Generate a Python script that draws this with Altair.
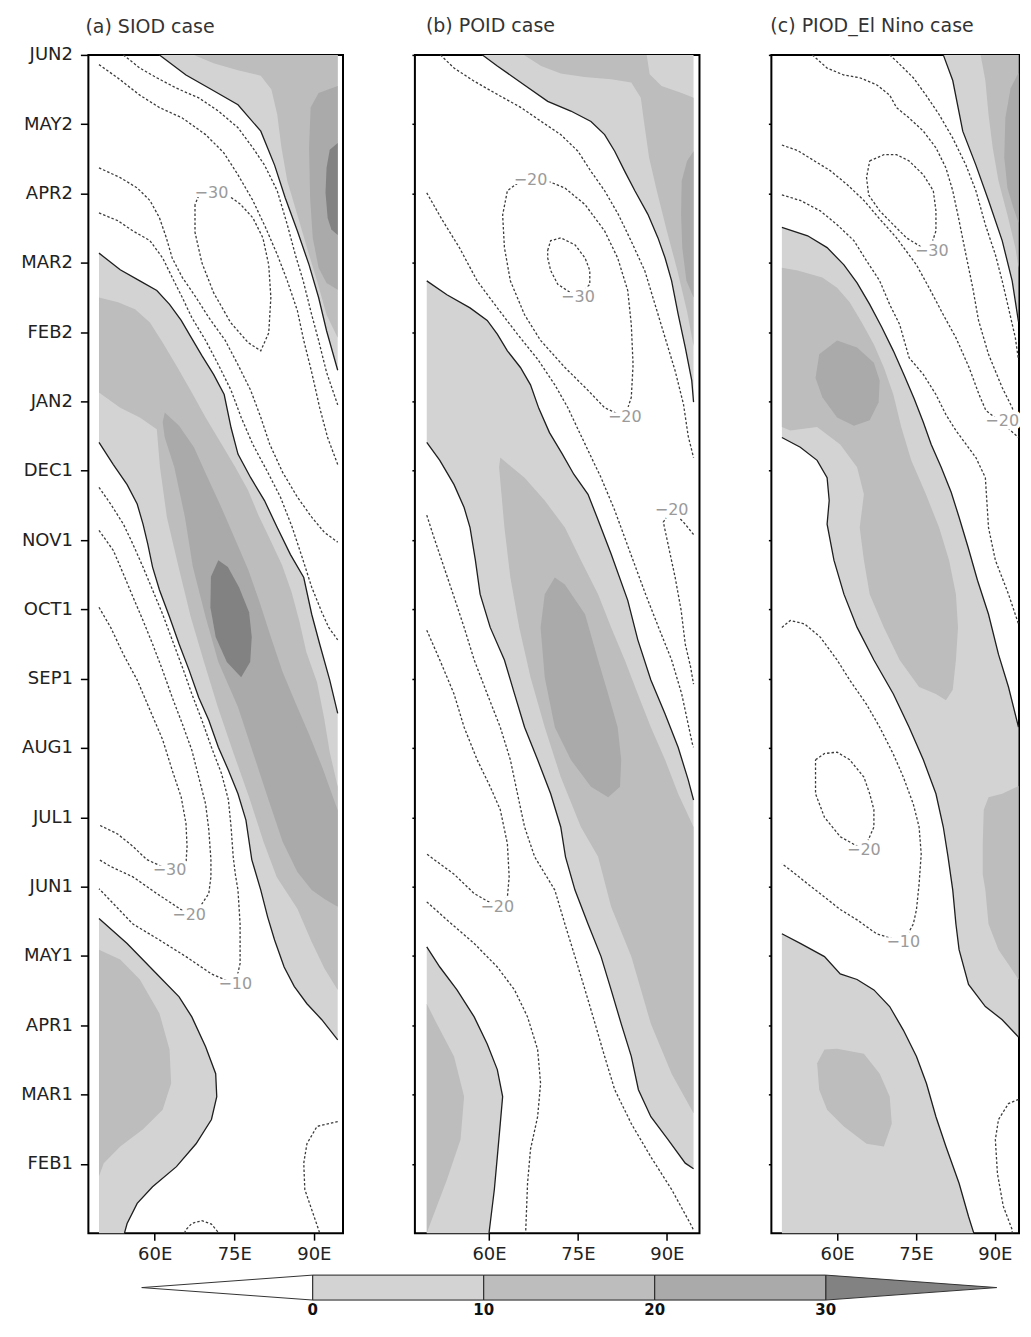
import altair as alt
import pandas as pd

# ---------------- axes / frame ----------------
LON_DOMAIN = [47.5, 95.5]
LON_DOMAIN_C = [47.5, 94.6]
T_DOMAIN = [0, 17]
LON_TICKS = [60, 75, 90]
T_TICKS = list(range(1, 18))
T_TICK_LABELS = ["FEB1", "MAR1", "APR1", "MAY1", "JUN1", "JUL1", "AUG1", "SEP1",
                 "OCT1", "NOV1", "DEC1", "JAN2", "FEB2", "MAR2", "APR2", "MAY2", "JUN2"]
PANEL_TITLES = ["(a)  SIOD  case", "(b)  POID  case", "(c)  PIOD_El  Nino  case"]
LON_W, LON_E, T_BOT, T_TOP = 49.5, 94.5, 0.0, 17.0
LEVELS = [0, 10, 20, 30]
CBAR_BOUNDS = [0, 10, 20, 30]
CBAR_LIMITS = [-10, 40]

# ---------------- panel (a) SIOD : (lon E, months since JAN1) ----------------
A_Z0_TOP = [(60.9, 17.0), (65.9, 16.71), (70.7, 16.50), (75.7, 16.28), (80.0, 15.90), (82.6, 15.41),
            (84.6, 14.94), (86.9, 14.46), (89.1, 13.97), (90.9, 13.50), (92.4, 13.02), (94.5, 12.45)]
A_Z10_TOP = [(67.4, 17.0), (71.1, 16.88), (75.7, 16.78), (80.0, 16.70), (82.0, 16.50), (83.1, 16.14),
             (83.9, 15.66), (85.0, 15.18), (86.9, 14.69), (88.7, 14.22), (90.6, 13.74), (92.4, 13.25),
             (94.5, 12.92), (94.5, 17.0)]
A_Z20_TOP = [(94.5, 16.55), (90.9, 16.45), (89.4, 16.24), (89.1, 15.66), (89.3, 14.94), (89.8, 14.36),
             (90.9, 13.93), (92.4, 13.71), (94.5, 13.61)]
A_Z30_TOP = [(94.5, 15.73), (93.0, 15.63), (92.4, 15.37), (92.2, 15.01), (92.6, 14.65), (93.3, 14.48),
             (94.5, 14.40)]
A_Z0_BAND_UP = [(49.5, 14.14), (53.5, 13.90), (57.2, 13.74), (60.4, 13.60), (62.8, 13.40), (65.0, 13.17),
                (66.9, 12.92), (68.9, 12.66), (71.1, 12.39), (73.1, 12.10), (74.4, 11.62), (75.7, 11.24),
                (78.1, 10.90), (80.7, 10.57), (83.1, 10.18), (85.6, 9.79), (88.1, 9.46), (89.6, 8.93),
                (91.1, 8.50), (93.0, 7.98), (94.5, 7.50)]
A_Z0_BAND_LO = [(49.5, 11.41), (52.2, 11.09), (54.8, 10.80), (56.7, 10.52), (57.8, 10.23), (58.7, 9.94),
                (59.6, 9.61), (60.9, 9.28), (62.8, 8.89), (64.6, 8.50), (66.5, 8.12), (68.3, 7.73),
                (70.2, 7.40), (72.0, 7.01), (73.9, 6.68), (75.7, 6.34), (77.2, 5.96), (78.3, 5.39),
                (80.0, 4.95), (81.3, 4.56), (82.6, 4.23), (84.4, 3.84), (86.3, 3.56), (88.7, 3.31),
                (91.5, 3.08), (94.5, 2.79)]
A_Z10_BAND = [(49.5, 13.50), (53.1, 13.43), (56.3, 13.33), (59.1, 13.14), (61.5, 12.85), (64.3, 12.49),
              (67.0, 12.13), (69.6, 11.77), (72.4, 11.41), (75.2, 11.05), (77.6, 10.72), (79.5, 10.37),
              (81.8, 10.00), (84.0, 9.64), (85.8, 9.25), (87.3, 8.82), (88.6, 8.38), (90.6, 7.95),
              (91.9, 7.45), (93.0, 6.94), (94.5, 6.44), (94.5, 3.51), (92.0, 3.82), (89.6, 4.20),
              (86.9, 4.68), (83.0, 5.14), (80.5, 5.65), (77.8, 6.29), (74.8, 6.94), (71.9, 7.59),
              (69.3, 8.24), (66.8, 8.89), (64.5, 9.61), (62.3, 10.33), (61.0, 11.05), (60.4, 11.60),
              (57.2, 11.77), (53.5, 11.91), (49.5, 12.13)]
A_Z20_BAND = [(61.9, 11.84), (64.6, 11.65), (67.4, 11.34), (69.8, 10.93), (72.4, 10.50), (75.0, 10.04),
              (77.6, 9.58), (79.8, 9.10), (81.9, 8.60), (84.1, 8.10), (86.5, 7.66), (89.1, 7.20),
              (91.7, 6.70), (94.5, 6.10), (94.5, 4.71), (92.0, 4.82), (89.6, 4.95), (86.9, 5.21),
              (84.1, 5.65), (81.3, 6.29), (78.5, 6.94), (75.7, 7.59), (72.0, 8.24), (69.6, 8.89),
              (67.2, 9.61), (65.7, 10.33), (63.7, 11.05), (61.9, 11.48), (61.5, 11.70)]
A_Z30_BAND = [(72.0, 9.71), (70.6, 9.47), (70.5, 9.03), (71.5, 8.60), (73.6, 8.24), (76.3, 8.02),
              (78.0, 8.24), (78.3, 8.60), (77.8, 8.96), (75.9, 9.32), (73.8, 9.61)]
A_Z0_LL = [(49.5, 4.54), (54.8, 4.18), (60.4, 3.74), (64.6, 3.41), (67.0, 3.12), (69.6, 2.69), (71.5, 2.30),
           (71.7, 1.97), (70.7, 1.64), (67.8, 1.29), (64.1, 0.96), (59.6, 0.67), (56.7, 0.43), (54.8, 0.14),
           (54.3, 0.0)]
A_Z10_LL = [(49.5, 4.09), (53.5, 3.95), (57.2, 3.66), (60.9, 3.17), (62.8, 2.65), (63.1, 2.16), (61.5, 1.78),
            (57.8, 1.50), (53.5, 1.25), (50.4, 1.01), (49.5, 0.82)]

A_D10_TOP = [(54.1, 17.0), (57.2, 16.81), (60.4, 16.67), (64.1, 16.52), (68.3, 16.38), (72.0, 16.19),
             (75.7, 15.95), (78.5, 15.66), (80.7, 15.41), (83.1, 15.04), (85.0, 14.55), (86.5, 14.12),
             (88.0, 13.74), (89.6, 13.25), (90.9, 12.88), (92.4, 12.42), (94.5, 11.95)]
A_D20_TOP = [(49.5, 16.86), (53.0, 16.67), (57.2, 16.42), (60.9, 16.24), (65.2, 16.09), (69.6, 15.85),
             (73.0, 15.59), (75.7, 15.27), (78.5, 14.90), (80.9, 14.51), (83.1, 14.12), (85.0, 13.74),
             (86.9, 13.31), (88.1, 12.88), (89.6, 12.42), (91.1, 11.91), (92.6, 11.48), (94.5, 11.09)]
A_D30_LOOP = [(67.6, 14.84), (67.6, 14.44), (68.9, 14.00), (71.1, 13.57), (74.3, 13.14), (77.6, 12.85),
              (80.0, 12.73), (81.5, 12.99), (81.9, 13.50), (81.5, 13.97), (80.4, 14.36), (78.5, 14.65),
              (76.1, 14.85), (73.9, 14.97), (70.7, 15.01), (68.3, 14.97), (67.6, 14.84)]
A_D20_MID = [(49.5, 15.37), (53.5, 15.23), (56.7, 15.08), (59.1, 14.90), (60.9, 14.65), (62.2, 14.36),
             (63.3, 14.07), (65.2, 13.79), (67.8, 13.50), (70.2, 13.21), (73.3, 12.88), (75.7, 12.53),
             (78.1, 12.16), (80.0, 11.77), (81.7, 11.38), (84.1, 10.98), (86.9, 10.62), (89.6, 10.33),
             (92.0, 10.11), (94.5, 9.97)]
A_D10_MID = [(49.5, 14.72), (53.0, 14.61), (55.9, 14.46), (59.1, 14.32), (61.5, 14.07), (63.3, 13.79),
             (65.2, 13.50), (67.0, 13.21), (69.6, 12.88), (72.0, 12.53), (74.4, 12.16), (76.3, 11.77),
             (78.5, 11.38), (81.3, 10.98), (83.7, 10.62), (85.9, 10.19), (87.8, 9.75), (89.6, 9.32),
             (91.5, 8.96), (92.8, 8.74), (94.5, 8.56)]
A_D10_LOW = [(49.5, 10.76), (51.7, 10.52), (54.1, 10.23), (55.9, 9.94), (57.8, 9.61), (59.6, 9.28),
             (61.5, 8.93), (63.3, 8.56), (65.2, 8.17), (67.0, 7.78), (68.9, 7.40), (70.7, 7.01),
             (72.6, 6.63), (73.9, 6.25), (74.4, 5.86), (74.8, 5.43), (75.2, 5.18), (75.7, 4.95),
             (76.1, 4.46), (76.1, 3.89), (75.2, 3.59), (70.7, 3.74), (65.9, 3.99), (60.9, 4.23),
             (55.9, 4.46), (49.5, 4.97)]
A_D20_LOW = [(49.5, 10.14), (52.2, 9.85), (54.1, 9.51), (55.9, 9.18), (57.8, 8.84), (59.6, 8.50),
             (61.5, 8.12), (63.3, 7.73), (65.2, 7.35), (67.0, 6.97), (68.3, 6.58), (69.6, 6.19),
             (70.2, 5.82), (70.6, 5.39), (70.6, 5.14), (70.2, 4.90), (68.9, 4.75), (66.5, 4.59),
             (60.4, 4.90), (55.9, 5.14), (51.7, 5.29), (49.5, 5.39)]
A_D30_LOW = [(49.5, 9.03), (51.7, 8.74), (54.1, 8.35), (56.7, 7.98), (59.1, 7.55), (61.5, 7.12),
             (63.3, 6.68), (65.0, 6.29), (65.9, 5.91), (66.1, 5.58), (65.9, 5.33), (62.8, 5.24),
             (58.5, 5.39), (55.9, 5.58), (53.0, 5.76), (49.5, 5.89)]
A_D10_BR = [(94.5, 1.61), (90.6, 1.54), (88.7, 1.29), (88.1, 1.01), (88.3, 0.63), (89.6, 0.34),
            (90.9, 0.05), (91.1, 0.0)]
A_D10_BB = [(65.6, 0.0), (65.9, 0.05), (67.0, 0.14), (68.9, 0.18), (70.7, 0.13), (72.0, 0.01)]
A_LABELS = [("\u221230", 70.7, 15.01), ("\u221230", 62.8, 5.24), ("\u221220", 66.5, 4.59),
            ("\u221210", 75.2, 3.59)]

# ---------------- panel (b) POID ----------------
B_Z0_TOP = [(58.9, 17.0), (61.4, 16.84), (65.9, 16.57), (69.9, 16.33), (73.8, 16.19), (77.2, 16.04),
            (79.5, 15.85), (81.2, 15.61), (82.9, 15.32), (84.6, 15.04), (86.8, 14.70), (88.5, 14.36),
            (89.7, 14.07), (90.8, 13.74), (91.9, 13.26), (93.1, 12.78), (94.2, 12.30), (94.5, 11.99)]
B_Z10_TOP = [(65.9, 17.0), (68.8, 16.84), (72.1, 16.73), (76.1, 16.68), (80.6, 16.65), (84.0, 16.60),
             (85.6, 16.38), (86.2, 16.00), (87.0, 15.52), (88.3, 15.04), (90.0, 14.46), (91.8, 13.88),
             (93.4, 13.30), (94.5, 12.80), (94.5, 16.38), (92.5, 16.45), (89.1, 16.55), (87.1, 16.72),
             (86.6, 17.0)]
B_Z20_TOP = [(94.5, 15.61), (93.4, 15.47), (92.5, 15.18), (92.4, 14.70), (92.6, 14.22), (93.3, 13.74),
             (94.5, 13.50)]
B_Z0_BAND_UP = [(49.5, 13.74), (52.9, 13.54), (56.8, 13.35), (59.7, 13.17), (61.4, 12.97), (63.1, 12.73),
                (65.3, 12.49), (67.0, 12.24), (68.4, 11.90), (70.2, 11.55), (72.3, 11.25), (74.3, 10.95),
                (76.7, 10.66), (78.4, 10.29), (80.6, 9.80), (83.4, 9.13), (85.1, 8.56), (87.3, 7.98),
                (89.7, 7.49), (91.9, 7.01), (93.6, 6.54), (94.5, 6.25)]
B_Z0_BAND_LO = [(49.5, 11.41), (51.7, 11.15), (54.1, 10.80), (55.8, 10.47), (56.8, 10.18), (57.7, 9.71),
                (58.5, 9.22), (60.2, 8.74), (62.6, 8.27), (64.3, 7.78), (66.0, 7.30), (68.2, 6.83),
                (70.4, 6.34), (72.1, 5.86), (72.9, 5.43), (74.5, 4.95), (76.7, 4.46), (78.9, 3.99),
                (80.6, 3.51), (82.3, 3.02), (84.0, 2.55), (85.2, 2.07), (87.3, 1.68), (90.2, 1.35),
                (93.1, 1.01), (94.5, 0.93)]
B_Z10_BAND = [(61.9, 11.19), (66.0, 10.90), (69.4, 10.57), (72.8, 10.18), (75.5, 9.71), (78.4, 9.22),
              (80.6, 8.74), (82.9, 8.27), (85.1, 7.78), (87.3, 7.30), (89.7, 6.83), (91.9, 6.34),
              (94.5, 5.86), (94.5, 1.73), (90.8, 2.30), (87.3, 3.02), (84.0, 3.99), (80.6, 4.71),
              (78.4, 5.43), (75.5, 5.86), (72.1, 6.58), (69.4, 7.30), (67.0, 8.02), (65.1, 8.74),
              (63.6, 9.46), (62.6, 10.18), (61.7, 11.05)]
B_Z20_BAND = [(71.1, 9.46), (72.8, 9.36), (76.2, 8.93), (78.4, 8.27), (80.1, 7.78), (81.7, 7.30),
              (82.3, 6.83), (82.1, 6.44), (80.1, 6.29), (77.2, 6.44), (73.8, 6.83), (71.1, 7.30),
              (69.4, 8.02), (68.7, 8.74), (69.4, 9.22)]
B_Z0_LL = [(49.5, 4.13), (51.7, 3.84), (54.6, 3.51), (57.5, 3.12), (59.7, 2.73), (61.4, 2.36), (62.3, 1.97),
           (61.9, 1.58), (61.4, 1.10), (60.9, 0.63), (60.2, 0.14), (60.0, 0.0)]
B_Z10_LL = [(49.5, 3.31), (51.2, 3.02), (54.1, 2.55), (55.8, 1.97), (55.2, 1.35), (52.9, 0.77),
            (50.1, 0.14), (49.5, 0.0)]

B_D10_TOP = [(51.8, 17.0), (54.1, 16.81), (57.5, 16.62), (61.4, 16.43), (65.4, 16.24), (68.8, 16.04),
             (72.1, 15.85), (75.0, 15.61), (77.2, 15.32), (79.5, 15.04), (81.8, 14.70), (84.0, 14.31),
             (86.3, 13.88), (88.0, 13.40), (89.7, 12.92), (91.4, 12.44), (92.8, 11.96), (93.6, 11.50),
             (94.5, 11.19)]
B_D20_LOOP = [(67.0, 15.20), (69.9, 15.18), (72.8, 15.08), (76.2, 14.84), (79.5, 14.46), (81.7, 14.07),
              (83.4, 13.60), (84.0, 13.11), (84.3, 12.53), (84.0, 12.06), (82.9, 11.77), (79.5, 11.91),
              (76.7, 12.16), (72.8, 12.49), (68.7, 12.88), (66.0, 13.25), (63.6, 13.74), (62.6, 14.22),
              (62.3, 14.69), (63.1, 15.04), (65.3, 15.18), (67.0, 15.20)]
B_D30_LOOP = [(69.9, 14.18), (70.4, 14.32), (72.1, 14.36), (74.5, 14.26), (76.2, 14.07), (77.0, 13.89),
              (77.0, 13.69), (75.0, 13.50), (71.6, 13.69), (70.4, 13.89), (69.9, 14.07), (69.9, 14.18)]
B_D10_MID = [(49.5, 15.01), (52.1, 14.62), (55.0, 14.22), (58.0, 13.74), (61.4, 13.35), (64.8, 12.97),
             (68.2, 12.61), (71.1, 12.24), (73.3, 11.91), (75.0, 11.60), (77.0, 11.24), (78.9, 10.90),
             (81.2, 10.43), (83.9, 9.80), (86.4, 9.22), (88.6, 8.74), (90.8, 8.27), (92.5, 7.78),
             (94.3, 7.06), (94.5, 7.01)]
B_D20_BULGE = [(94.5, 10.08), (92.8, 10.26), (90.8, 10.43), (89.4, 10.26), (90.2, 9.94), (91.4, 9.46),
               (92.4, 8.99), (93.1, 8.50), (94.0, 8.17), (94.5, 7.92)]
B_D10_LOW1 = [(49.5, 10.36), (50.7, 10.04), (52.4, 9.61), (54.1, 9.18), (55.8, 8.74), (57.5, 8.27),
              (59.7, 7.78), (61.9, 7.30), (63.6, 6.83), (64.8, 6.34), (66.0, 5.86), (67.7, 5.43),
              (71.1, 4.95), (72.8, 4.46), (74.5, 3.99), (76.2, 3.51), (77.9, 3.02), (79.5, 2.55),
              (81.2, 2.07), (84.0, 1.58), (87.3, 1.10), (90.8, 0.63), (94.2, 0.10), (94.5, 0.04)]
B_D20_U = [(49.5, 8.70), (51.7, 8.27), (54.1, 7.78), (55.8, 7.30), (58.0, 6.83), (60.2, 6.44), (61.9, 6.11),
           (63.1, 5.62), (63.4, 5.14), (63.1, 4.85), (61.4, 4.71), (57.5, 4.90), (54.1, 5.18), (51.7, 5.33),
           (49.5, 5.47)]
B_D10_LOW2 = [(49.5, 4.78), (52.9, 4.52), (57.5, 4.18), (61.4, 3.84), (64.3, 3.51), (66.5, 3.12),
              (68.2, 2.65), (68.7, 2.16), (68.2, 1.68), (67.0, 1.21), (66.5, 0.72), (66.2, 0.05), (66.2, 0.0)]
B_LABELS = [("\u221220", 67.0, 15.20), ("\u221230", 75.0, 13.50), ("\u221220", 82.9, 11.77),
            ("\u221220", 90.8, 10.43), ("\u221220", 61.4, 4.71)]

# ---------------- panel (c) PIOD_El Nino ----------------
C_Z0_TOP = [(80.2, 17.0), (82.0, 16.63), (83.9, 15.90), (86.4, 15.41), (88.8, 14.90), (91.4, 14.32),
            (93.3, 13.74), (94.5, 13.15)]
C_Z10_TOP = [(87.3, 17.0), (88.2, 16.63), (88.8, 16.14), (89.6, 15.66), (90.7, 15.18), (92.4, 14.69),
             (93.9, 14.22), (94.5, 13.93), (94.5, 17.0)]
C_Z20_TOP = [(94.5, 16.74), (93.0, 16.52), (92.0, 16.09), (91.8, 15.52), (92.4, 15.08), (93.5, 14.80),
             (94.5, 14.58)]
C_Z0_BAND_UP = [(49.5, 14.51), (54.4, 14.39), (58.1, 14.22), (61.3, 13.97), (63.8, 13.71), (66.2, 13.40),
                (68.5, 13.07), (70.7, 12.73), (72.8, 12.37), (74.7, 12.03), (76.4, 11.70), (77.9, 11.38),
                (79.8, 11.05), (81.7, 10.69), (83.2, 10.33), (84.9, 9.90), (86.7, 9.42), (88.8, 8.93),
                (90.7, 8.35), (92.6, 7.88), (94.5, 7.30)]
C_Z0_BAND_LO = [(49.5, 11.48), (53.0, 11.34), (56.2, 11.15), (58.1, 10.90), (58.5, 10.57), (58.1, 10.23),
                (59.4, 9.71), (61.3, 9.22), (63.8, 8.74), (67.0, 8.27), (70.7, 7.78), (73.7, 7.30),
                (76.4, 6.83), (78.8, 6.34), (80.2, 5.86), (81.1, 5.43), (82.0, 4.95), (82.6, 4.46),
                (83.2, 4.09), (85.0, 3.59), (88.2, 3.27), (91.4, 3.08), (94.5, 2.83)]
C_Z10_BAND = [(49.5, 13.93), (52.5, 13.89), (57.2, 13.79), (60.0, 13.64), (62.4, 13.43), (64.7, 13.14),
              (67.0, 12.82), (68.9, 12.49), (70.7, 12.10), (72.2, 11.63), (74.1, 11.15), (76.9, 10.66),
              (79.4, 10.18), (81.3, 9.71), (82.6, 9.22), (83.0, 8.74), (82.6, 8.27), (82.0, 7.84),
              (80.7, 7.69), (78.8, 7.78), (75.6, 7.88), (71.9, 8.27), (68.9, 8.74), (66.2, 9.22),
              (65.1, 9.71), (64.3, 10.18), (65.1, 10.66), (63.8, 11.05), (60.6, 11.38), (56.2, 11.63),
              (51.1, 11.58), (49.5, 11.63)]
C_Z20_BAND = [(60.0, 12.88), (63.8, 12.78), (67.0, 12.56), (68.1, 12.30), (67.9, 11.99), (66.2, 11.73),
              (63.2, 11.65), (60.0, 11.77), (57.2, 12.06), (55.9, 12.34), (56.6, 12.68)]
C_Z10_BR = [(94.5, 6.45), (91.4, 6.34), (88.8, 6.29), (87.9, 6.11), (87.7, 5.62), (87.7, 5.18), (88.2, 4.95),
            (88.8, 4.46), (90.7, 4.09), (93.3, 3.80), (94.5, 3.66)]
C_Z0_LL = [(49.5, 4.32), (53.0, 4.18), (57.6, 3.99), (60.6, 3.74), (63.8, 3.66), (67.0, 3.51), (70.0, 3.27),
           (72.6, 2.93), (75.1, 2.55), (77.0, 2.16), (78.8, 1.68), (80.7, 1.25), (83.2, 0.72), (85.0, 0.24),
           (86.0, 0.0)]
C_Z10_LL = [(60.0, 2.66), (65.1, 2.59), (68.1, 2.30), (70.0, 1.97), (70.4, 1.58), (68.9, 1.25), (65.6, 1.29),
            (61.3, 1.54), (58.1, 1.78), (56.6, 2.07), (56.2, 2.45), (57.6, 2.65), (60.0, 2.66)]

C_D10_TOP = [(70.0, 17.0), (71.3, 16.91), (74.5, 16.67), (76.9, 16.42), (79.4, 16.14), (82.0, 15.80),
             (84.5, 15.41), (86.4, 15.04), (88.2, 14.55), (90.1, 14.12), (91.4, 13.74), (92.6, 13.35),
             (93.9, 12.92), (94.5, 12.60)]
C_D20_TOP = [(55.3, 17.0), (58.1, 16.81), (61.3, 16.71), (64.3, 16.67), (67.5, 16.57), (70.0, 16.42),
             (71.3, 16.24), (73.7, 16.09), (76.4, 15.90), (78.8, 15.66), (80.7, 15.37), (82.0, 15.04),
             (83.2, 14.61), (84.5, 14.12), (85.8, 13.64), (86.9, 13.17), (88.8, 12.68), (91.4, 12.20),
             (93.3, 11.91), (94.5, 11.67)]
C_D30_LOOP = [(66.2, 15.47), (68.9, 15.56), (71.3, 15.56), (73.7, 15.47), (76.4, 15.27), (78.3, 15.04),
              (78.8, 14.75), (78.8, 14.46), (77.5, 14.16), (73.2, 14.36), (70.7, 14.55), (68.1, 14.75),
              (66.0, 14.98), (65.6, 15.23), (66.2, 15.47)]
C_D20_LOW = [(49.5, 15.70), (52.5, 15.62), (55.7, 15.47), (58.7, 15.33), (61.9, 15.13), (65.1, 14.90),
             (67.9, 14.65), (71.3, 14.36), (75.1, 13.97), (77.5, 13.64), (80.2, 13.25), (82.6, 12.92),
             (85.1, 12.49), (87.0, 12.10), (88.3, 11.87), (91.2, 11.70), (94.5, 11.48)]
C_D10_LOW = [(49.5, 14.98), (53.0, 14.90), (56.8, 14.75), (60.0, 14.55), (63.2, 14.32), (65.6, 14.03),
             (68.1, 13.74), (70.0, 13.40), (71.9, 13.11), (73.7, 12.63), (76.4, 12.39), (78.8, 12.10),
             (80.7, 11.81), (82.6, 11.58), (86.4, 11.19), (88.2, 10.90), (88.8, 10.18), (90.1, 9.71),
             (92.6, 9.22), (94.5, 8.79)]
C_D20_LOOP = [(55.9, 6.83), (57.6, 6.92), (60.0, 6.94), (62.4, 6.83), (65.1, 6.58), (66.2, 6.34),
              (67.0, 6.11), (67.0, 5.86), (65.1, 5.53), (60.6, 5.72), (57.6, 6.00), (55.9, 6.34), (55.9, 6.83)]
C_D10_U = [(49.5, 8.74), (51.1, 8.84), (53.8, 8.79), (56.8, 8.60), (60.0, 8.27), (62.4, 7.98), (65.6, 7.63),
           (68.1, 7.30), (70.7, 6.91), (72.6, 6.58), (74.5, 6.19), (75.6, 5.86), (76.0, 5.47), (75.6, 5.04),
           (75.1, 4.67), (74.5, 4.46), (72.6, 4.20), (67.5, 4.32), (63.8, 4.52), (60.6, 4.67), (57.6, 4.85),
           (54.4, 5.04), (51.1, 5.24), (49.5, 5.33)]
C_D10_BR = [(94.5, 1.93), (92.6, 1.87), (90.7, 1.64), (90.1, 1.35), (90.5, 0.86), (91.6, 0.39), (93.3, 0.05),
            (93.3, 0.0)]
C_LABELS = [("\u221230", 78.0, 14.17), ("\u221220", 91.4, 11.72), ("\u221220", 65.1, 5.53),
            ("\u221210", 72.6, 4.20)]

# ---------------- styles ----------------
FILL_COLORS = ["#d3d3d3", "#bdbdbd", "#aaaaaa", "#828282"]
FONT = "DejaVu Sans"
ZERO_COLOR = "#1e1e1e"
DASH_COLOR = "#3c3c3c"
LABEL_COLOR = "#9a9a9a"
CBAR_X_DOMAIN = [-13.12, 1.77]   # colour-bar scale over the 255 px of column 1 (extends unclamped)


def path_rows(paths, tag):
    rows = []
    for gi, pts in enumerate(paths):
        for k, (lon, t) in enumerate(pts):
            rows.append({"g": f"{tag}{gi}", "k": k, "lon": lon, "t": t})
    return pd.DataFrame(rows)


def make_panel(title, title_dx, title_dy, width, lon_domain, fills, zero_lines, dashed, labels,
               show_labels):
    label_expr = "[" + ",".join(f"'{s}'" for s in T_TICK_LABELS) + "][datum.value - 1]"
    x_axis = alt.Axis(values=LON_TICKS, labelExpr="datum.value + 'E'", title=None, grid=False,
                      domain=False, tickSize=7, tickWidth=1.5, tickColor="black",
                      labelFont=FONT, labelFontSize=18, labelColor="#222", labelPadding=5)
    y_axis = alt.Axis(values=T_TICKS, labelExpr=label_expr, title=None, grid=False, domain=False,
                      tickSize=8 if show_labels else 3, tickWidth=1.5, tickColor="black",
                      labels=show_labels, labelFont=FONT, labelFontSize=18, labelColor="#222",
                      labelPadding=8, labelOverlap=False)
    x = alt.X("lon:Q", scale=alt.Scale(domain=lon_domain, nice=False, zero=False), axis=x_axis)
    y = alt.Y("t:Q", scale=alt.Scale(domain=T_DOMAIN, nice=False, zero=False), axis=y_axis)

    layers = []
    for lev, col in zip(LEVELS, FILL_COLORS):
        polys = fills.get(lev, [])
        if not polys:
            continue
        df = path_rows(polys, f"f{lev}_")
        layers.append(
            alt.Chart(df).mark_line(filled=True, fill=col, fillOpacity=1, strokeOpacity=0,
                                    interpolate="linear")
            .encode(x=x, y=y, detail="g:N", order="k:Q"))
    layers.append(
        alt.Chart(path_rows(zero_lines, "z")).mark_line(color=ZERO_COLOR, strokeWidth=1.3)
        .encode(x=x, y=y, detail="g:N", order="k:Q"))
    layers.append(
        alt.Chart(path_rows(dashed, "d")).mark_line(color=DASH_COLOR, strokeWidth=1.3,
                                                    strokeDash=[2.5, 2])
        .encode(x=x, y=y, detail="g:N", order="k:Q"))
    ldf = pd.DataFrame([{"s": s, "lon": lo, "t": tt} for s, lo, tt in labels])
    layers.append(
        alt.Chart(ldf).mark_text(font=FONT, fontSize=16, color="white", stroke="white",
                                 strokeWidth=7, align="center", baseline="middle")
        .encode(x=x, y=y, text="s:N"))
    layers.append(
        alt.Chart(ldf).mark_text(font=FONT, fontSize=16, color=LABEL_COLOR, align="center",
                                 baseline="middle")
        .encode(x=x, y=y, text="s:N"))
    return alt.layer(*layers).properties(
        width=width, height=1180,
        title=alt.TitleParams(text=title, anchor="start", frame="group", dx=title_dx, dy=title_dy,
                              offset=4, baseline="alphabetic", font=FONT, fontSize=19,
                              fontWeight="normal", color="#333"))


panel_a = make_panel(
    PANEL_TITLES[0], -3, 10, 255, LON_DOMAIN,
    {0: [A_Z0_TOP + [(LON_E, T_TOP)], A_Z0_BAND_UP + A_Z0_BAND_LO[::-1], A_Z0_LL + [(LON_W, T_BOT)]],
     10: [A_Z10_TOP, A_Z10_BAND, A_Z10_LL],
     20: [A_Z20_TOP, A_Z20_BAND],
     30: [A_Z30_TOP, A_Z30_BAND]},
    [A_Z0_TOP, A_Z0_BAND_UP, A_Z0_BAND_LO, A_Z0_LL],
    [A_D10_TOP, A_D20_TOP, A_D30_LOOP, A_D20_MID, A_D10_MID, A_D10_LOW, A_D20_LOW, A_D30_LOW,
     A_D10_BR, A_D10_BB],
    A_LABELS, True)

panel_b = make_panel(
    PANEL_TITLES[1], 11, 3, 285, LON_DOMAIN,
    {0: [B_Z0_TOP + [(LON_E, T_TOP)], B_Z0_BAND_UP + B_Z0_BAND_LO[::-1], B_Z0_LL + [(LON_W, T_BOT)]],
     10: [B_Z10_TOP, B_Z10_BAND, B_Z10_LL],
     20: [B_Z20_TOP, B_Z20_BAND]},
    [B_Z0_TOP, B_Z0_BAND_UP, B_Z0_BAND_LO, B_Z0_LL],
    [B_D10_TOP, B_D20_LOOP, B_D30_LOOP, B_D10_MID, B_D20_BULGE, B_D10_LOW1, B_D20_U, B_D10_LOW2],
    B_LABELS, False)

panel_c = make_panel(
    PANEL_TITLES[2], -1, 3, 248, LON_DOMAIN_C,
    {0: [C_Z0_TOP + [(LON_E, T_TOP)], C_Z0_BAND_UP + C_Z0_BAND_LO[::-1], C_Z0_LL + [(LON_W, T_BOT)]],
     10: [C_Z10_TOP, C_Z10_BAND, C_Z10_BR, C_Z10_LL],
     20: [C_Z20_TOP, C_Z20_BAND]},
    [C_Z0_TOP, C_Z0_BAND_UP, C_Z0_BAND_LO, C_Z0_LL],
    [C_D10_TOP, C_D20_TOP, C_D30_LOOP, C_D20_LOW, C_D10_LOW, C_D20_LOOP, C_D10_U, C_D10_BR],
    C_LABELS, False)

# ---------------- colour bar ----------------
cbx = alt.X("x:Q", scale=alt.Scale(domain=CBAR_X_DOMAIN, nice=False, zero=False), axis=None)
cby = alt.Y("y:Q", scale=alt.Scale(domain=[0, 1], nice=False, zero=False), axis=None)

rect_df = pd.DataFrame({"x": CBAR_BOUNDS[:-1], "x2": CBAR_BOUNDS[1:], "y": [0, 0, 0], "y2": [1, 1, 1],
                        "col": FILL_COLORS[:3]})
left_df = pd.DataFrame({"x": [CBAR_LIMITS[0], CBAR_BOUNDS[0]], "y": [0.5, 0.0], "y2": [0.5, 1.0]})
right_df = pd.DataFrame({"x": [CBAR_BOUNDS[-1], CBAR_LIMITS[1]], "y": [0.0, 0.5], "y2": [1.0, 0.5]})
lab_df = pd.DataFrame({"x": CBAR_BOUNDS, "y": [0] * len(CBAR_BOUNDS),
                       "s": [str(v) for v in CBAR_BOUNDS]})

cb_rects = alt.Chart(rect_df).mark_rect(stroke="#222", strokeWidth=1).encode(
    x=cbx, x2=alt.X2("x2:Q"), y=cby, y2=alt.Y2("y2:Q"), color=alt.Color("col:N", scale=None))
cb_left = alt.Chart(left_df).mark_area(fill="white", stroke="#333", strokeWidth=1).encode(
    x=cbx, y=cby, y2=alt.Y2("y2:Q"))
cb_right = alt.Chart(right_df).mark_area(fill=FILL_COLORS[3], stroke="#333", strokeWidth=1).encode(
    x=cbx, y=cby, y2=alt.Y2("y2:Q"))
cb_text = alt.Chart(lab_df).mark_text(font=FONT, fontSize=15, fontWeight="bold", color="#111",
                                      baseline="top", align="center", dy=3).encode(
    x=cbx, y=cby, text="s:N")
colorbar = alt.layer(cb_left, cb_right, cb_rects, cb_text).properties(
    width=255, height=25, view=alt.ViewBackground(stroke="transparent"))

chart = alt.concat(panel_a, panel_b, panel_c, colorbar, columns=3, bounds="flush", align="each",
                   spacing={"row": 42, "column": 72}).properties(
    padding={"left": 11.5, "top": 7, "right": 0, "bottom": 0}
).configure_view(stroke="black", strokeWidth=2)

chart.save("out.html", embed_options={"renderer": "svg", "actions": False})
